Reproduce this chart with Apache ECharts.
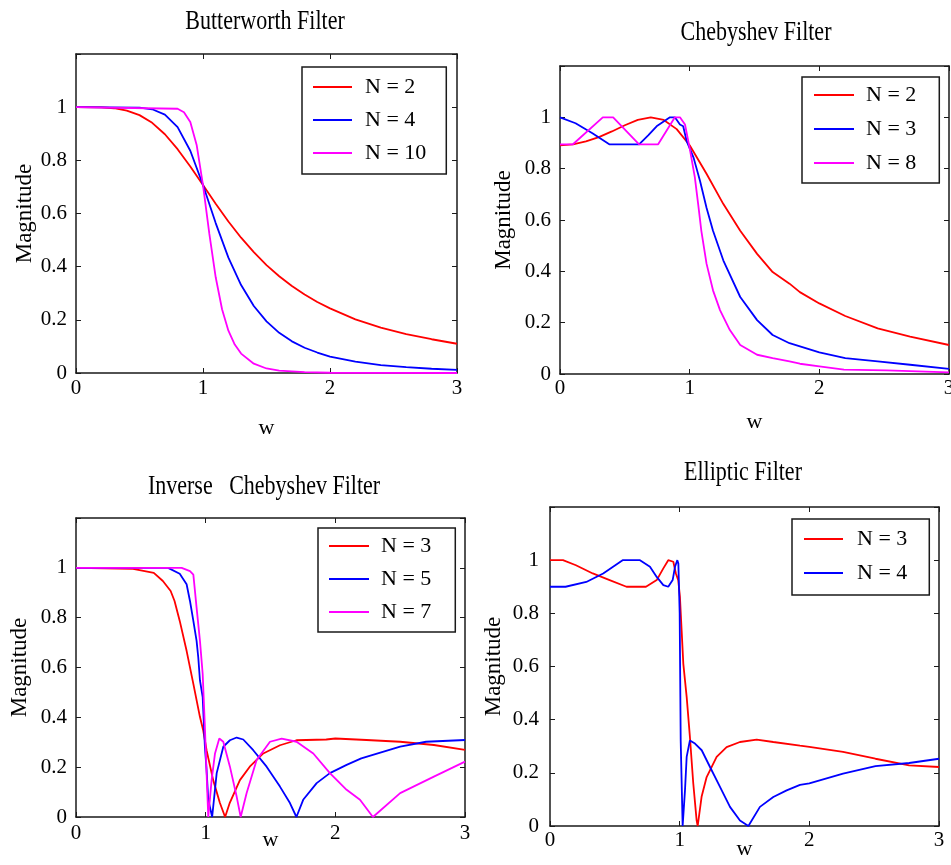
<!DOCTYPE html>
<html>
<head>
<meta charset="utf-8">
<title>Filter magnitude responses</title>
<script src="https://cdn.jsdelivr.net/npm/echarts@6/dist/echarts.min.js"></script>
<style>
  html, body { margin: 0; padding: 0; background: #fff; }
  #main { width: 951px; height: 865px; }
</style>
</head>
<body>
<div id="main"></div>
<script>
// magnitude curves, [w, |H|]
var butterN2 = [[0,1],[0.2,0.999],[0.3,0.996],[0.4,0.987],[0.5,0.97],[0.6,0.941],[0.7,0.898],[0.8,0.842],[0.9,0.777],[1.0,0.707],[1.1,0.637],[1.2,0.57],[1.3,0.509],[1.4,0.455],[1.5,0.406],[1.6,0.364],[1.7,0.327],[1.8,0.295],[1.9,0.267],[2.0,0.243],[2.2,0.202],[2.4,0.171],[2.6,0.146],[2.8,0.127],[3.0,0.11]];
var butterN4 = [[0,1],[0.5,0.998],[0.6,0.992],[0.7,0.972],[0.8,0.925],[0.9,0.836],[1.0,0.707],[1.1,0.564],[1.2,0.434],[1.3,0.331],[1.4,0.252],[1.5,0.194],[1.6,0.151],[1.7,0.119],[1.8,0.095],[1.9,0.077],[2.0,0.062],[2.2,0.043],[2.4,0.03],[2.6,0.022],[2.8,0.016],[3.0,0.012]];
var butterN10 = [[0,1],[0.8,0.994],[0.85,0.981],[0.9,0.944],[0.95,0.858],[1.0,0.707],[1.05,0.523],[1.1,0.36],[1.15,0.24],[1.2,0.159],[1.25,0.107],[1.3,0.073],[1.4,0.035],[1.5,0.017],[1.6,0.009],[1.8,0.003],[2.0,0.001],[3.0,0]];

var chebN2 = [[0,0.891],[0.1,0.895],[0.2,0.906],[0.3,0.923],[0.4,0.945],[0.5,0.969],[0.6,0.99],[0.7,1.0],[0.8,0.99],[0.9,0.954],[1.0,0.891],[1.13,0.78],[1.26,0.662],[1.39,0.558],[1.52,0.468],[1.64,0.397],[1.77,0.352],[1.85,0.319],[2.0,0.275],[2.2,0.226],[2.45,0.178],[2.7,0.146],[3.0,0.113]];
var chebN3 = [[0,1.0],[0.12,0.977],[0.25,0.938],[0.38,0.895],[0.61,0.895],[0.68,0.93],[0.745,0.965],[0.848,1.0],[0.886,1.0],[0.925,0.972],[0.95,0.965],[0.977,0.907],[1.03,0.843],[1.08,0.752],[1.13,0.648],[1.18,0.558],[1.26,0.442],[1.39,0.3],[1.52,0.21],[1.64,0.152],[1.77,0.12],[2.0,0.084],[2.2,0.062],[2.45,0.049],[2.7,0.036],[3.0,0.02]];
var chebN8 = [[0,0.895],[0.1,0.895],[0.33,1.0],[0.41,1.0],[0.61,0.895],[0.757,0.895],[0.886,1.0],[0.925,1.0],[0.964,0.972],[1.0,0.88],[1.04,0.766],[1.066,0.66],[1.09,0.558],[1.13,0.43],[1.18,0.326],[1.234,0.249],[1.31,0.171],[1.39,0.113],[1.52,0.075],[1.64,0.062],[1.77,0.049],[1.85,0.04],[2.0,0.03],[2.19,0.017],[2.52,0.014],[3.0,0.006]];

var invN3 = [[0,1],[0.44,0.996],[0.6,0.98],[0.67,0.947],[0.73,0.907],[0.76,0.867],[0.8,0.787],[0.853,0.667],[0.905,0.534],[0.956,0.401],[0.981,0.348],[1.007,0.268],[1.058,0.148],[1.11,0.056],[1.15,0.0],[1.186,0.057],[1.264,0.148],[1.34,0.202],[1.444,0.255],[1.573,0.288],[1.7,0.308],[1.93,0.311],[2.0,0.315],[2.24,0.309],[2.5,0.302],[2.76,0.289],[3.0,0.269]];
var invN5 = [[0,1],[0.71,1.0],[0.8,0.976],[0.853,0.934],[0.879,0.867],[0.905,0.787],[0.93,0.707],[0.943,0.64],[0.956,0.548],[0.977,0.481],[0.994,0.282],[1.007,0.189],[1.02,0.069],[1.05,0.0],[1.085,0.176],[1.136,0.282],[1.187,0.308],[1.239,0.319],[1.29,0.311],[1.367,0.268],[1.47,0.202],[1.573,0.122],[1.65,0.056],[1.7,0.0],[1.752,0.069],[1.856,0.136],[1.958,0.176],[2.087,0.209],[2.2,0.235],[2.5,0.282],[2.7,0.302],[3.0,0.309]];
var invN7 = [[0,1],[0.815,1.0],[0.879,0.987],[0.905,0.973],[0.93,0.84],[0.956,0.707],[0.977,0.574],[0.994,0.361],[1.007,0.176],[1.02,0.0],[1.046,0.149],[1.072,0.255],[1.105,0.315],[1.136,0.302],[1.187,0.202],[1.239,0.082],[1.27,0.0],[1.316,0.096],[1.393,0.229],[1.496,0.302],[1.586,0.315],[1.701,0.302],[1.83,0.255],[1.958,0.176],[2.087,0.109],[2.19,0.069],[2.29,0.0],[2.5,0.096],[2.76,0.162],[3.0,0.222]];

var ellN3 = [[0,1.0],[0.1,1.0],[0.2,0.981],[0.33,0.95],[0.46,0.925],[0.59,0.9],[0.74,0.9],[0.823,0.925],[0.874,0.969],[0.912,1.0],[0.951,0.994],[0.971,0.95],[0.989,0.925],[1.002,0.862],[1.015,0.737],[1.028,0.611],[1.054,0.486],[1.079,0.335],[1.105,0.16],[1.131,0.02],[1.139,0.0],[1.169,0.11],[1.208,0.184],[1.285,0.26],[1.362,0.297],[1.465,0.316],[1.594,0.325],[1.722,0.316],[1.928,0.302],[2.0,0.298],[2.26,0.279],[2.51,0.253],[2.77,0.228],[3.0,0.222]];
var ellN4 = [[0,0.9],[0.12,0.9],[0.28,0.918],[0.41,0.95],[0.56,1.0],[0.694,1.0],[0.771,0.975],[0.823,0.937],[0.874,0.906],[0.912,0.9],[0.946,0.925],[0.964,0.975],[0.982,1.0],[0.99,0.987],[1.0,0.8],[1.008,0.32],[1.023,0.0],[1.041,0.134],[1.054,0.26],[1.079,0.322],[1.118,0.31],[1.17,0.285],[1.234,0.222],[1.311,0.147],[1.388,0.072],[1.465,0.021],[1.53,0.0],[1.619,0.072],[1.722,0.109],[1.825,0.134],[1.928,0.155],[2.0,0.16],[2.26,0.197],[2.51,0.225],[2.77,0.237],[3.0,0.253]];

var RED = '#ff0000', BLUE = '#0000ff', PINK = '#ff00ff';
var INK = '#1a1a1a';
var FONT = '"Liberation Serif", "Times New Roman", serif';

var panels = [
  { key: 'bw', title: 'Butterworth Filter', tx: 265, ty: 22,
    grid: { left: 76, top: 54, width: 381, height: 319 },
    curves: [['N = 2', butterN2, RED], ['N = 4', butterN4, BLUE], ['N = 10', butterN10, PINK]],
    legend: { left: 302, top: 67, padding: [9, 20, 10, 11], itemWidth: 39, itemGap: 11, textPad: 8 },
    xMargin: 5, xGap: 44, yMargin: 9, yGap: 40 },
  { key: 'ch', title: 'Chebyshev Filter', tx: 756, ty: 33,
    grid: { left: 560, top: 66, width: 389, height: 308 },
    curves: [['N = 2', chebN2, RED], ['N = 3', chebN3, BLUE], ['N = 8', chebN8, PINK]],
    legend: { left: 802, top: 77, padding: [7, 23, 9, 12], itemWidth: 40, itemGap: 12, textPad: 7 },
    xMargin: 4, xGap: 37, yMargin: 9, yGap: 45 },
  { key: 'ic', title: 'Inverse   Chebyshev Filter', tx: 264, ty: 487,
    grid: { left: 76, top: 518, width: 389, height: 299 },
    curves: [['N = 3', invN3, RED], ['N = 5', invN5, BLUE], ['N = 7', invN7, PINK]],
    legend: { left: 318, top: 528, padding: [7, 24, 9, 11], itemWidth: 40, itemGap: 11, textPad: 7 },
    xMargin: 6, xGap: 12, yMargin: 9, yGap: 45 },
  { key: 'el', title: 'Elliptic Filter', tx: 743, ty: 473,
    grid: { left: 550, top: 507, width: 389, height: 319 },
    curves: [['N = 3', ellN3, RED], ['N = 4', ellN4, BLUE]],
    legend: { left: 792, top: 519, padding: [9, 22, 11, 12], itemWidth: 39, itemGap: 12, textPad: 9 },
    xMargin: 4, xGap: 12, yMargin: 11, yGap: 45 }
];

var myChart = echarts.init(document.getElementById('main'), null, { renderer: 'canvas' });

var option = {
  backgroundColor: '#fff',
  animation: false,
  grid: [], xAxis: [], yAxis: [], legend: [], series: [], graphic: []
};

var axisLine = { show: true, onZero: false, lineStyle: { color: INK, width: 1.5 } };
var axisTick = { show: true, inside: true, length: 5, lineStyle: { color: INK, width: 1 } };
var labelStyle = { fontFamily: FONT, fontSize: 21, color: '#000' };
var nameStyle = { fontFamily: FONT, fontSize: 22, color: '#000' };

panels.forEach(function (p, i) {
  option.grid.push(Object.assign({ show: false, containLabel: false, outerBoundsMode: 'none' }, p.grid));

  option.xAxis.push({
    gridIndex: i, type: 'value', min: 0, max: 3, interval: 1,
    axisLine: axisLine, axisTick: axisTick, splitLine: { show: false },
    axisLabel: Object.assign({ margin: p.xMargin }, labelStyle),
    name: 'w', nameLocation: 'middle', nameGap: p.xGap, nameMoveOverlap: false,
    nameTextStyle: nameStyle
  });
  option.xAxis.push({
    gridIndex: i, type: 'value', position: 'top', min: 0, max: 3, interval: 1,
    axisLine: axisLine, axisTick: axisTick, splitLine: { show: false },
    axisLabel: { show: false }
  });
  option.yAxis.push({
    gridIndex: i, type: 'value', min: 0, max: 1.2, interval: 0.2,
    axisLine: axisLine, axisTick: axisTick, splitLine: { show: false },
    axisLabel: Object.assign({
      margin: p.yMargin,
      formatter: function (v) { return v > 1.1 ? '' : String(Math.round(v * 10) / 10); }
    }, labelStyle),
    name: 'Magnitude', nameLocation: 'middle', nameGap: p.yGap, nameMoveOverlap: false,
    nameTextStyle: Object.assign({}, nameStyle, { fontSize: 23 })
  });
  option.yAxis.push({
    gridIndex: i, type: 'value', position: 'right', min: 0, max: 1.2, interval: 0.2,
    axisLine: axisLine, axisTick: axisTick, splitLine: { show: false },
    axisLabel: { show: false }
  });

  var names = [];
  p.curves.forEach(function (c) {
    var nm = p.key + '|' + c[0];
    names.push(nm);
    option.series.push({
      name: nm, type: 'line', xAxisIndex: 2 * i, yAxisIndex: 2 * i,
      data: c[1], symbol: 'none', showSymbol: false, silent: true,
      color: c[2], lineStyle: { color: c[2], width: 1.8 }
    });
  });

  option.legend.push({
    orient: 'vertical', left: p.legend.left, top: p.legend.top,
    data: names, selectedMode: false,
    formatter: function (n) { return n.split('|')[1]; },
    icon: 'rect', itemWidth: p.legend.itemWidth, itemHeight: 2, itemGap: p.legend.itemGap,
    padding: p.legend.padding, borderColor: INK, borderWidth: 1.5, borderRadius: 0,
    backgroundColor: '#fff',
    textStyle: { fontFamily: FONT, fontSize: 22, color: '#000', lineHeight: 22, padding: [0, 0, 0, p.legend.textPad] }
  });

  option.graphic.push({
    type: 'text', x: p.tx, y: p.ty, scaleY: 1.25, silent: true,
    style: { text: p.title, fontFamily: FONT, fontSize: 22, fill: '#000', align: 'center', verticalAlign: 'middle' }
  });
});

myChart.setOption(option);
</script>
</body>
</html>
